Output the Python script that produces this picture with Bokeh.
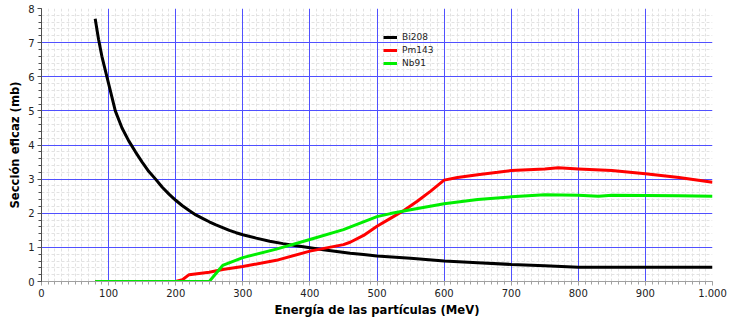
from bokeh.plotting import figure
from bokeh.models import Range1d, SingleIntervalTicker, FixedTicker, Grid, Legend, LegendItem
from bokeh.embed import file_html
from bokeh.resources import INLINE

# ---- data ----
bi_x = [80, 85, 90, 100, 110, 120, 130, 140, 150, 160, 170, 180, 190, 200, 210, 220, 230,
        240, 250, 260, 270, 280, 290, 300, 320, 340, 360, 380, 400, 420, 440, 460, 480,
        500, 550, 600, 650, 700, 750, 800, 850, 900, 950, 1000]
bi_y = [7.7, 7.1, 6.6, 5.8, 5.0, 4.5, 4.12, 3.8, 3.5, 3.22, 3.0, 2.76, 2.56, 2.38, 2.22,
        2.08, 1.95, 1.85, 1.75, 1.66, 1.58, 1.5, 1.43, 1.37, 1.27, 1.18, 1.11, 1.05, 0.99,
        0.93, 0.88, 0.83, 0.79, 0.75, 0.68, 0.6, 0.55, 0.5, 0.46, 0.42, 0.42, 0.42, 0.42, 0.42]

pm_x = [80, 200, 210, 220, 250, 270, 300, 350, 400, 450, 460, 480, 500, 520, 540, 560,
        580, 600, 620, 650, 680, 700, 750, 770, 800, 850, 900, 950, 1000]
pm_y = [0.0, 0.0, 0.05, 0.2, 0.27, 0.35, 0.44, 0.62, 0.89, 1.08, 1.15, 1.35, 1.62, 1.85,
        2.08, 2.35, 2.65, 2.97, 3.05, 3.13, 3.2, 3.25, 3.3, 3.33, 3.3, 3.25, 3.16, 3.05, 2.91]

nb_x = [80, 250, 270, 300, 350, 400, 450, 500, 520, 550, 600, 650, 700, 750, 800, 830,
        850, 900, 950, 1000]
nb_y = [0.0, 0.0, 0.47, 0.7, 0.95, 1.23, 1.52, 1.9, 1.99, 2.1, 2.28, 2.4, 2.48, 2.54, 2.53,
        2.5, 2.53, 2.52, 2.51, 2.5]

series_names = ["Bi208", "Pm143", "Nb91"]
series_colors = ["#000000", "#ff0000", "#00ee00"]

x_label = "Energía de las partículas (MeV)"
y_label = "Sección eficaz (mb)"

FONT = "DejaVu Sans"

p = figure(width=729, height=324, output_backend="svg", toolbar_location=None,
           x_range=Range1d(0, 1000), y_range=Range1d(0, 8),
           min_border_left=41, min_border_right=17, min_border_top=8, min_border_bottom=43)
p.outline_line_color = None
p.background_fill_color = "white"
p.border_fill_color = "white"

p.xaxis.ticker = SingleIntervalTicker(interval=100, num_minor_ticks=10)
p.yaxis.ticker = SingleIntervalTicker(interval=1, num_minor_ticks=5)
p.xaxis.major_label_overrides = {1000: "1.000"}

for ax in (p.xaxis, p.yaxis):
    ax.major_label_text_font = FONT
    ax.major_label_text_font_size = "10px"
    ax.major_label_text_color = "#222222"
    ax.axis_label_text_font = FONT
    ax.axis_label_text_font_size = "11.6px"
    ax.axis_label_text_font_style = "bold"
    ax.axis_label_text_color = "#000000"
    ax.major_tick_out = 4
    ax.major_tick_in = 0
    ax.minor_tick_out = 3
    ax.minor_tick_in = 0
    ax.major_label_standoff = 3
    ax.axis_label_standoff = 3

p.xaxis.axis_label = x_label
p.yaxis.axis_label = y_label
p.xaxis.axis_line_color = "#a0a0a0"
p.xaxis.major_tick_line_color = "#a0a0a0"
p.xaxis.minor_tick_line_color = "#a0a0a0"
p.yaxis.axis_line_color = "#505050"
p.yaxis.major_tick_line_color = "#505050"
p.yaxis.minor_tick_line_color = "#505050"

# minor dashed grid (excluding major positions), drawn under the blue major grid
minor_x = [v for v in range(10, 1000, 10) if v % 100 != 0]
minor_y = [k / 5 for k in range(1, 40) if k % 5 != 0]
gx = Grid(dimension=0, ticker=FixedTicker(ticks=minor_x), grid_line_color="#e2e2e2",
          grid_line_dash="3 2", grid_line_width=1, level="underlay")
gy = Grid(dimension=1, ticker=FixedTicker(ticks=minor_y), grid_line_color="#e2e2e2",
          grid_line_dash="3 2", grid_line_width=1, level="underlay")
p.renderers.insert(0, gx)
p.renderers.insert(0, gy)

p.grid.grid_line_color = "#5050ff"
p.grid.grid_line_width = 1
p.grid.minor_grid_line_color = None

renderers = []
for xs, ys, c in zip([bi_x, pm_x, nb_x], [bi_y, pm_y, nb_y], series_colors):
    r = p.line(xs, ys, line_color=c, line_width=3)
    renderers.append(r)

legend = Legend(items=[LegendItem(label=n, renderers=[r]) for n, r in zip(series_names, renderers)],
                location=(342, 212), background_fill_alpha=0, border_line_color=None,
                padding=0, margin=0, spacing=0, label_standoff=5, glyph_width=14,
                glyph_height=12, label_height=13, label_text_font=FONT,
                label_text_font_size="9px", label_text_color="#222222")
p.add_layout(legend)

open("out.html", "w").write(file_html(p, INLINE))
